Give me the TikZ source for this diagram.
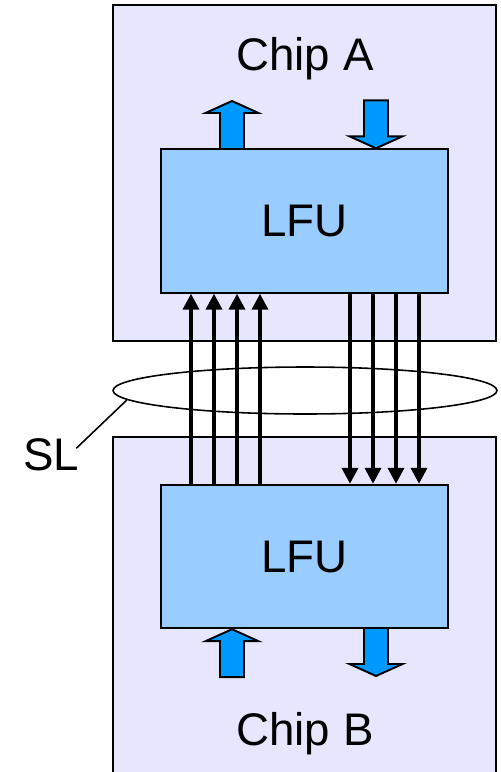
\documentclass[tikz,border=0pt]{standalone}
\usepackage{fontspec}
\setmainfont{Liberation Sans}
\usetikzlibrary{arrows.meta,shapes.geometric}
\definecolor{chipfill}{HTML}{E6E6FF}
\definecolor{lfufill}{HTML}{99CCFF}
\definecolor{fatfill}{HTML}{0099FF}
% fat arrow: #1 tip, #2 = 1 points down, -1 points up
\newcommand{\fatarrow}[2]{%
  \draw[fat] #1 -- ++(26.5,{-12*(#2)}) -- ++(-14.5,0) -- ++(0,{-36*(#2)})
    -- ++(-24,0) -- ++(0,{36*(#2)}) -- ++(-14.5,0) -- cycle;}
\begin{document}
\begin{tikzpicture}[x=0.02cm,y=-0.02cm,
  every node/.style={font=\fontsize{26}{30}\selectfont},
  chip/.style={draw,line width=1.1pt,fill=chipfill},
  lfu/.style={draw,line width=1.1pt,fill=lfufill,minimum width=5.74cm,minimum height=2.87cm,inner sep=0pt},
  fat/.style={draw,line width=1.1pt,fill=fatfill,line join=miter},
  wire/.style={line width=2.1pt,-{Triangle[width=9pt,length=9pt]}}]
\clip (0,0) rectangle (501,772);
\fill[white] (0,0) rectangle (501,772);
\begin{scope}
\draw[chip] (113,5) rectangle (496,341);
\node[anchor=base] (chipA) at (305,70) {Chip A};
\node[lfu] (lfuA) at (304.5,221) {LFU};
\fatarrow{(232,101)}{-1}
\fatarrow{(lfuA.north -| 376,0)}{1}
\end{scope}
\begin{scope}
\draw[chip] (113,437) rectangle (496,800);
\node[anchor=base] (chipB) at (305,745) {Chip B};
\node[lfu] (lfuB) at (304.5,556.5) {LFU};
\fatarrow{(lfuB.south -| 232,0)}{-1}
\fatarrow{(376,676)}{1}
\end{scope}
\foreach \x in {191,214,237,260}
  \draw[wire] (lfuB.north -| \x,0) -- (lfuA.south -| \x,0);
\foreach \x in {350,373,396,419}
  \draw[wire] (lfuA.south -| \x,0) -- (lfuB.north -| \x,0);
\node[draw,ellipse,line width=0.9pt,minimum width=7.68cm,minimum height=0.94cm,inner sep=0pt] (sl) at (305,390.5) {};
\node[anchor=base,inner sep=0pt] (slab) at (51,470) {SL};
\draw[line width=0.9pt] (slab.east) ++(-3,-6) -- (sl.183);
\end{tikzpicture}
\end{document}
